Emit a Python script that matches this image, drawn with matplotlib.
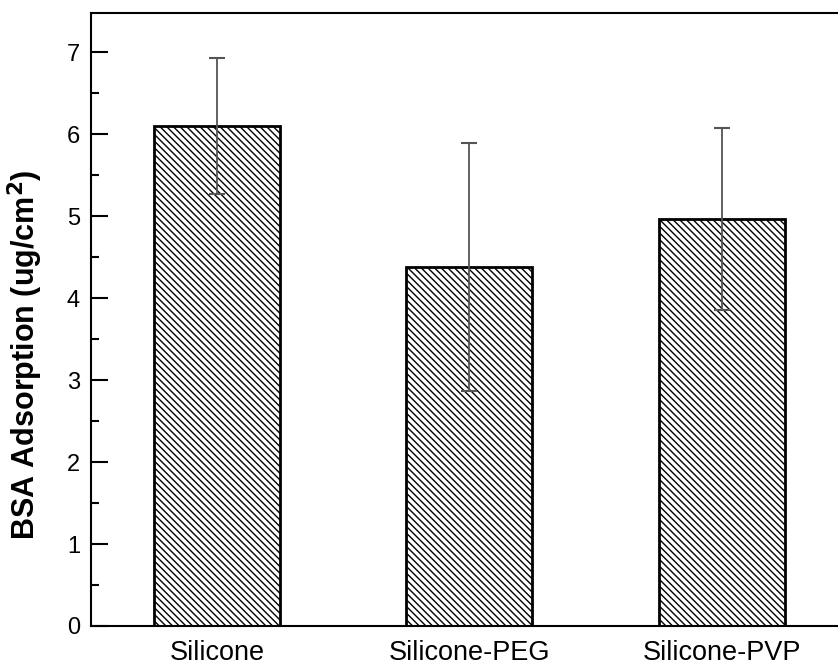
import matplotlib as mpl
import matplotlib.pyplot as plt
import numpy as np

samples = ['Silicone', 'Silicone-PEG', 'Silicone-PVP']
adsorption = [6.10, 4.38, 4.97]
adsorption_err = [0.83, 1.51, 1.11]

mpl.rcParams['font.family'] = ['Liberation Sans', 'DejaVu Sans']
mpl.rcParams['hatch.linewidth'] = 1.0
mpl.rcParams['hatch.color'] = '#303030'

fig = plt.figure(figsize=(8.38, 6.67), dpi=100)
ax = fig.add_axes([0.1086, 0.0615, 0.903, 0.919])

x = np.arange(1, len(samples) + 1)
ax.bar(x, adsorption, width=0.5, color='white', edgecolor='black',
       linewidth=2, hatch='\\\\\\\\\\', zorder=2)
ax.errorbar(x, adsorption, yerr=adsorption_err, fmt='none', ecolor='#555555',
            elinewidth=1.3, capsize=6, capthick=1.5, zorder=3)

ax.set_xlim(0.5, 3.5)
ax.set_ylim(0, 7.48)
ax.set_xticks(x)
ax.set_xticklabels(samples, fontsize=19.5)
ax.tick_params(axis='x', length=0, pad=10)
ax.set_yticks(range(0, 8))
ax.set_yticks(np.arange(0.5, 7.5, 1.0), minor=True)
ax.tick_params(axis='y', which='major', direction='in', length=12, width=1.5, labelsize=17, pad=8)
ax.tick_params(axis='y', which='minor', direction='in', length=6, width=1.5)
ax.set_ylabel('BSA Adsorption (ug/cm$^\\mathbf{2}$)', fontsize=22, fontweight='bold')
ax.yaxis.set_label_coords(-0.061, 0.442)

for side in ['left', 'bottom', 'top', 'right']:
    ax.spines[side].set_linewidth(1.5)

fig.savefig('out.png', dpi=100)
